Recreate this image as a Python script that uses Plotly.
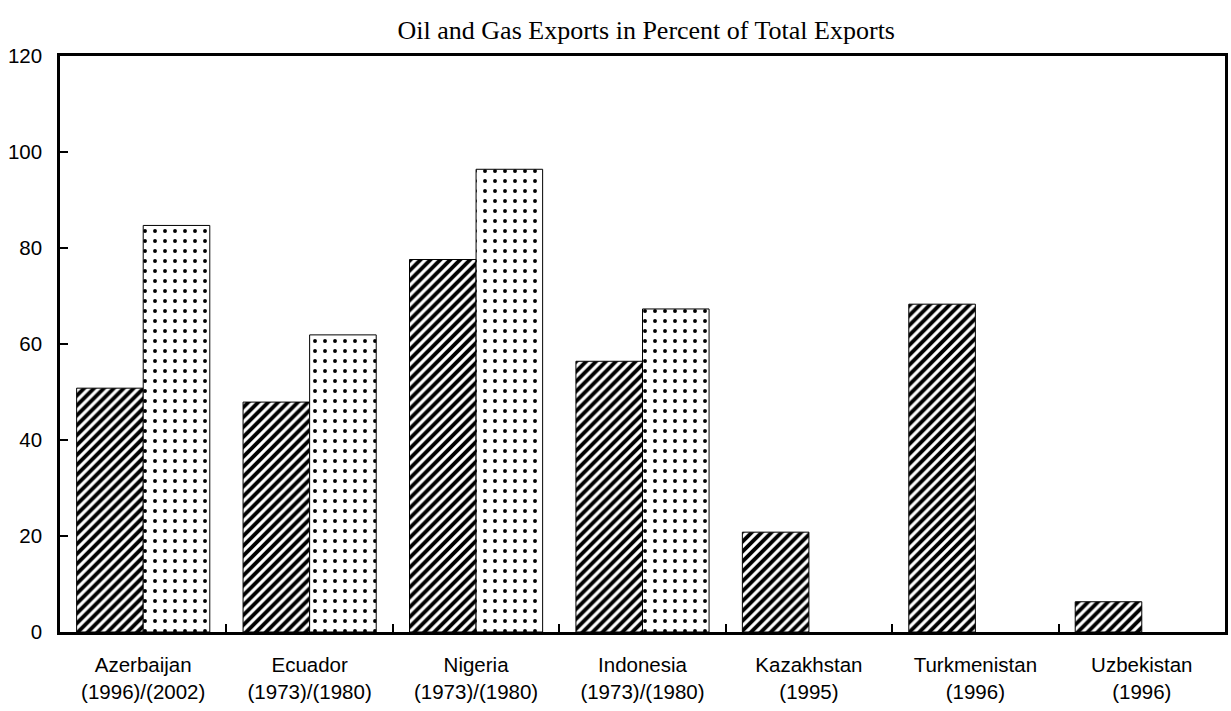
import plotly.graph_objects as go

categories = ["Azerbaijan<br>(1996)/(2002)", "Ecuador<br>(1973)/(1980)", "Nigeria<br>(1973)/(1980)",
              "Indonesia<br>(1973)/(1980)", "Kazakhstan<br>(1995)", "Turkmenistan<br>(1996)",
              "Uzbekistan<br>(1996)"]
first_year = [50.8, 47.9, 77.6, 56.4, 20.8, 68.3, 6.3]
second_year = [84.7, 61.9, 96.4, 67.3, None, None, None]
y_ticks = [0, 20, 40, 60, 80, 100, 120]

fig = go.Figure()
fig.add_trace(go.Bar(
    x=categories, y=first_year, name="Earlier year",
    marker=dict(color="white", line=dict(color="black", width=1),
                pattern=dict(shape="/", fgcolor="black", bgcolor="white", fgopacity=1,
                             size=7, solidity=0.55)),
))
fig.add_trace(go.Bar(
    x=categories, y=second_year, name="Later year",
    marker=dict(color="white", line=dict(color="black", width=1),
                pattern=dict(shape=".", fgcolor="black", bgcolor="white", fgopacity=1,
                             size=10, solidity=0.12)),
))

fig.update_layout(
    width=1231, height=711,
    barmode="group", bargap=0.2, bargroupgap=0,
    showlegend=False,
    plot_bgcolor="white", paper_bgcolor="white",
    margin=dict(l=60, r=3, t=56, b=79),
    title=dict(text="Oil and Gas Exports in Percent of Total Exports",
               x=0.525, xanchor="center", y=0.958, yanchor="middle",
               font=dict(family="Liberation Serif", size=26, color="black")),
    font=dict(family="Liberation Sans", size=20.5, color="black"),
)
fig.update_xaxes(
    showline=True, linecolor="black", linewidth=2.5, mirror=True,
    ticks="inside", tickson="boundaries", ticklen=8, tickwidth=2, tickcolor="black",
    showgrid=False, tickfont=dict(size=20.5), ticklabelstandoff=13,
)
fig.update_yaxes(
    range=[0, 120], tickvals=y_ticks,
    showline=True, linecolor="black", linewidth=2.5, mirror=True,
    ticks="inside", ticklen=8, tickwidth=2, tickcolor="black",
    showgrid=False, zeroline=False, tickfont=dict(size=20.5), ticklabelstandoff=11,
)

fig.write_html(
    "out.html",
    config={"responsive": False, "displayModeBar": False},
    post_script="document.body.style.margin='0';document.documentElement.style.overflow='hidden';",
)
